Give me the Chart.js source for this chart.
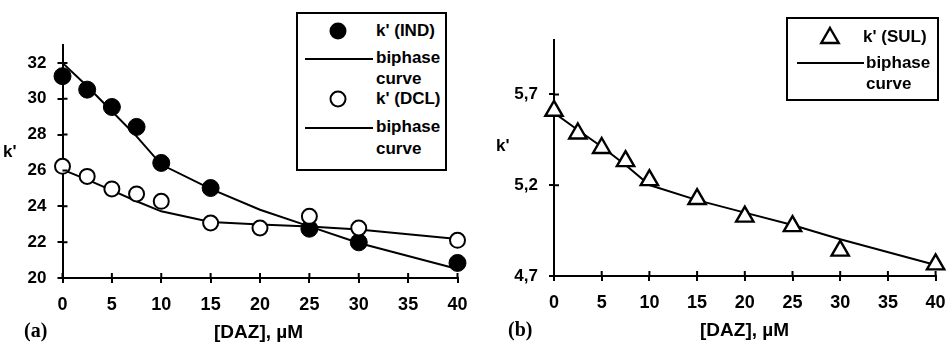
<!DOCTYPE html>
<html>
<head>
<meta charset="utf-8">
<script src="https://cdn.jsdelivr.net/npm/chart.js@4.4.1/dist/chart.umd.min.js"></script>
<style>
  html, body { margin: 0; padding: 0; background: #fff; }
  #wrap { position: relative; width: 948px; height: 342px; overflow: hidden; }
  canvas { position: absolute; top: 0; }
  #cA { left: 0; }
  #cB { left: 480px; }
  .txt { position: absolute; font: bold 17px "Liberation Sans", Arial, sans-serif; color: #000; line-height: 20px; white-space: nowrap; }
  .big { font-size: 19px; }
  .ser { font: bold 20px "Liberation Serif", "Times New Roman", serif; }
  svg { position: absolute; left: 0; top: 0; pointer-events: none; }
</style>
</head>
<body>
<div id="wrap">
  <canvas id="cA" width="480" height="342"></canvas>
  <canvas id="cB" width="468" height="342"></canvas>

  <svg width="948" height="342">
    <!-- legend (a) -->
    <rect x="297" y="13" width="149" height="157" fill="#fff" stroke="#000" stroke-width="2"/>
    <circle cx="338" cy="31" r="8.5" fill="#000"/>
    <line x1="305" y1="59" x2="373" y2="59" stroke="#000" stroke-width="2"/>
    <circle cx="338" cy="99" r="7.5" fill="#fff" stroke="#000" stroke-width="2"/>
    <line x1="305" y1="128" x2="373" y2="128" stroke="#000" stroke-width="2"/>
    <!-- legend (b) -->
    <rect x="787" y="18" width="151" height="82" fill="#fff" stroke="#000" stroke-width="2"/>
    <polygon points="830,28 838.7,43 821.3,43" fill="#fff" stroke="#000" stroke-width="2.4"/>
    <line x1="797" y1="63" x2="864" y2="63" stroke="#000" stroke-width="2"/>
  </svg>

  <div class="txt" style="left:376px; top:21px;">k' (IND)</div>
  <div class="txt" style="left:376px; top:48px;">biphase</div>
  <div class="txt" style="left:376px; top:69px;">curve</div>
  <div class="txt" style="left:376px; top:89px;">k' (DCL)</div>
  <div class="txt" style="left:376px; top:117px;">biphase</div>
  <div class="txt" style="left:376px; top:139px;">curve</div>

  <div class="txt" style="left:863px; top:27px;">k' (SUL)</div>
  <div class="txt" style="left:866px; top:53px;">biphase</div>
  <div class="txt" style="left:866px; top:74px;">curve</div>

  <div class="txt" style="left:3px; top:142px;">k'</div>
  <div class="txt" style="left:496px; top:136px;">k'</div>

  <div class="txt big" style="left:214px; top:322px;">[DAZ], µM</div>
  <div class="txt big" style="left:700px; top:320px;">[DAZ], µM</div>
  <div class="txt ser" style="left:24px; top:319px;">(a)</div>
  <div class="txt ser" style="left:508px; top:318px;">(b)</div>
</div>

<script>
// x values (DAZ concentration, uM)
const daz = [0, 2.5, 5, 7.5, 10, 15, 20, 25, 30, 40];
const dazInd = [0, 2.5, 5, 7.5, 10, 15, 25, 30, 40];

// panel (a)
const kInd = [31.26, 30.51, 29.54, 28.43, 26.42, 25.02, 22.75, 21.99, 20.84];
const kIndCurve = [32.0, 30.7, 29.3, 27.9, 26.33, 24.97, 23.81, 22.88, 21.95, 20.5];
const kDcl = [26.23, 25.67, 24.97, 24.69, 24.28, 23.07, 22.79, 23.44, 22.79, 22.1];
const kDclCurve = [26.05, 25.49, 24.89, 24.28, 23.72, 23.13, 22.98, 22.88, 22.7, 22.18];

// panel (b)
const kSul = [5.61, 5.485, 5.405, 5.333, 5.228, 5.124, 5.027, 4.975, 4.84, 4.764];
const kSulCurve = [5.599, 5.504, 5.412, 5.311, 5.201, 5.118, 5.049, 4.981, 4.902, 4.761];

// tick labels
const xTicks = [0, 5, 10, 15, 20, 25, 30, 35, 40];
const yTicksA = [20, 22, 24, 26, 28, 30, 32];
const yTicksB = [4.7, 5.2, 5.7];

Chart.defaults.font.family = '"Liberation Sans", Arial, sans-serif';
Chart.defaults.font.weight = 'bold';
Chart.defaults.font.size = 17;
Chart.defaults.color = '#000';

const pts = (xs, ys) => xs.map((x, i) => ({ x: x, y: ys[i] }));

// small tick marks on the inner side of both axes
const crossTicks = {
  id: 'crossTicks',
  afterDraw(chart) {
    const ctx = chart.ctx;
    const x = chart.scales.x, y = chart.scales.y;
    ctx.save();
    ctx.strokeStyle = '#000';
    ctx.lineWidth = 2;
    ctx.beginPath();
    x.ticks.forEach(t => {
      const px = x.getPixelForValue(t.value);
      ctx.moveTo(px, x.top);
      ctx.lineTo(px, x.top - 5);
    });
    y.ticks.forEach(t => {
      const py = y.getPixelForValue(t.value);
      ctx.moveTo(y.right, py);
      ctx.lineTo(y.right + 5, py);
    });
    ctx.stroke();
    ctx.restore();
  }
};

function makeOptions(yMin, yMax, yTicks, yFmt, padTop, padRight, yW, xH) {
  return {
    responsive: false,
    animation: false,
    layout: { padding: { top: padTop, right: padRight, left: 0, bottom: 0 } },
    plugins: { legend: { display: false }, tooltip: { enabled: false } },
    scales: {
      x: {
        type: 'linear', min: 0, max: 40,
        afterBuildTicks: s => { s.ticks = xTicks.map(v => ({ value: v })); },
        afterFit: s => { s.height = xH; s.paddingLeft = 0; s.paddingRight = 0; },
        grid: { drawOnChartArea: false, tickLength: 5, color: '#000', lineWidth: 2 },
        border: { color: '#000', width: 2 },
        ticks: { padding: 11, maxRotation: 0, font: { size: 18 } }
      },
      y: {
        type: 'linear', min: yMin, max: yMax,
        afterBuildTicks: s => { s.ticks = yTicks.map(v => ({ value: v })); },
        afterFit: s => { s.width = yW; },
        grid: { drawOnChartArea: false, tickLength: 5, color: '#000', lineWidth: 2 },
        border: { color: '#000', width: 2 },
        ticks: { padding: 11, callback: yFmt }
      }
    }
  };
}

new Chart(document.getElementById('cA'), {
  type: 'scatter',
  data: {
    datasets: [
      { data: pts(daz, kDcl), pointStyle: 'circle', pointRadius: 7.5, backgroundColor: '#fff', borderColor: '#000', borderWidth: 2, clip: false },
      { data: pts(dazInd, kInd), pointStyle: 'circle', pointRadius: 8.5, backgroundColor: '#000', borderColor: '#000', borderWidth: 1, clip: false },
      { data: pts(daz, kIndCurve), showLine: true, tension: 0, pointRadius: 0, borderColor: '#000', borderWidth: 2 },
      { data: pts(daz, kDclCurve), showLine: true, tension: 0, pointRadius: 0, borderColor: '#000', borderWidth: 2 }
    ]
  },
  options: makeOptions(20, 33, yTicksA, v => String(v), 45, 22.5, 62.5, 64),
  plugins: [crossTicks]
});

new Chart(document.getElementById('cB'), {
  type: 'scatter',
  data: {
    datasets: [
      { data: pts(daz, kSul), pointStyle: 'triangle', pointRadius: 10, backgroundColor: '#fff', borderColor: '#000', borderWidth: 2.4, clip: false },
      { data: pts(daz, kSulCurve), showLine: true, tension: 0, pointRadius: 0, borderColor: '#000', borderWidth: 2 }
    ]
  },
  options: makeOptions(4.7, 6.0, yTicksB, v => v.toFixed(1).replace('.', ','), 40, 8.7, 74, 66),
  plugins: [crossTicks]
});
</script>
</body>
</html>
